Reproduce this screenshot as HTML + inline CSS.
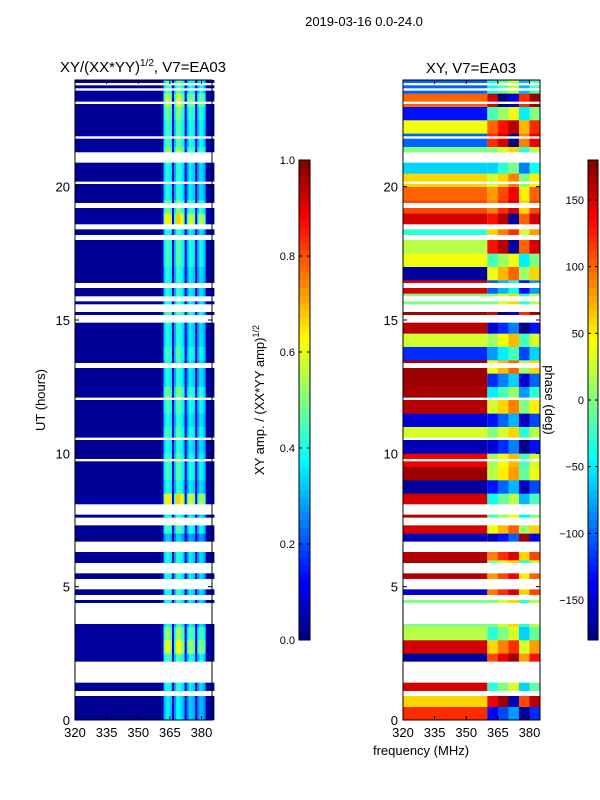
<!DOCTYPE html>
<html><head><meta charset="utf-8">
<style>
body{margin:0;background:#fff;}
svg{display:block;font-family:"Liberation Sans","DejaVu Sans",sans-serif;}
</style></head>
<body>
<svg id="fig" width="600" height="800" viewBox="0 0 600 800" xmlns="http://www.w3.org/2000/svg">
<rect width="600" height="800" fill="#fff"/>
<text x="364" y="26" font-size="13" text-anchor="middle">2019-03-16 0.0-24.0</text>
<text x="143" y="72" font-size="15" text-anchor="middle">XY/(XX*YY)<tspan font-size="10" dy="-6">1/2</tspan><tspan dy="6">, V7=EA03</tspan></text>
<text x="471" y="73" font-size="15" text-anchor="middle">XY, V7=EA03</text>
<g id="left"></g>
<g id="right"></g>
<g id="axes"></g>
<text x="45" y="400" font-size="13" text-anchor="middle" transform="rotate(-90 45 400)">UT (hours)</text>
<text x="421" y="755" font-size="13" text-anchor="middle">frequency (MHz)</text>
<text x="264" y="400" font-size="13" text-anchor="middle" transform="rotate(-90 264 400)">XY amp. / (XX*YY amp)<tspan font-size="9" dy="-5">1/2</tspan></text>
<text x="545" y="400" font-size="13" text-anchor="middle" transform="rotate(90 545 400)">phase (deg)</text>
</svg>
<script>
// ---- data ----
const freqMin = 320, freqMax = 385, hourMin = 0, hourMax = 24;
const xTicks = [320, 335, 350, 365, 380];
const yTicks = [0, 5, 10, 15, 20];
const ampTicks = [0.0, 0.2, 0.4, 0.6, 0.8, 1.0];
const phaseTicks = [-150, -100, -50, 0, 50, 100, 150];
// no-data intervals [startHour, endHour]
const gaps = [[0.94,1.12],[1.39,1.76],[1.8,2.17],[3.56,4.42],[4.5,4.7],[4.95,5.35],[5.5,5.9],[6.3,6.75],[7.35,7.6],[7.75,8.15],
 [8.9,8.95],[9.4,9.45],[9.7,9.8],[10.3,10.35],[10.5,10.6],[11.1,11.15],[11.8,11.85],
 [12.0,12.1],[12.3,12.35],[13.25,13.4],[14.0,14.05],[14.6,14.65],[14.9,15.25],[15.3,15.6],[15.7,15.9],[16.25,16.4],
 [17.0,17.05],[17.5,17.55],[18.05,18.2],[18.45,18.6],[18.9,18.95],[19.25,19.4],[19.7,19.75],[20.06,20.2],[20.9,21.3],
 [21.6,21.65],[21.85,21.9],[22.1,22.15],[22.3,22.35],[22.9,22.95],[23.15,23.2],[23.3,23.35],[23.5,23.55],[23.65,23.7],[23.85,23.9]];
// amplitude profile for 361..385 MHz (1 MHz bins); below 361 uses ampBase
const ampBase = 0.02;
const ampProfile = [0.05,0.33,0.4,0.4,0.36,0.08,0.3,0.42,0.42,0.38,0.33,0.08,0.28,0.37,0.35,0.32,0.08,0.28,0.35,0.33,0.28,0.03,0.03,0.03,0.03];
// per half-hour gain, 0h..23.5h
const rowGain = [0.9,0.9,1,1,1.1,1.5,1.3,1,1,1,1,1,1,0.8,1.1,1,1.6,1,1.1,1.1,1,1.1,1,1.1,1.2,1,1,1.1,1,1,1.1,1,1,1,1.1,1.1,1,1.6,1.2,1,1,1,1.3,1.1,1.1,1.2,1.4,1.1];
// phase (deg) per half hour, low band (<360 MHz) and high band (>=360 MHz)
const phaseLow = [120,60,150,0,-170,150,20,0,0,-150,160,170,160,-160,150,160,150,-170,170,140,-160,30,-150,160,165,170,170,-120,30,160,170,0,150,-170,40,20,-30,150,110,100,60,-60,0,-100,40,-130,100,-100];
const phaseHigh = [-140,140,-30,0,110,60,-30,0,0,90,80,0,90,-160,40,-20,-40,-130,20,10,-150,0,-130,30,-50,-120,40,-80,10,-150,150,0,-100,40,-20,130,60,130,90,80,30,-60,0,120,100,-20,150,-40];
// column phase offsets per 5 MHz chunk from 360 MHz
const phaseColOffset = [0,30,60,-30,20];

// ---- geometry ----
const L = {x0:75,x1:212}, R = {x0:403,x1:540}, Y0 = 720, Y1 = 80;
const NS = "http://www.w3.org/2000/svg";
function xs(p,f){return p.x0+(f-freqMin)/(freqMax-freqMin)*(p.x1-p.x0);}
function ys(h){return Y0-(h-hourMin)/(hourMax-hourMin)*(Y0-Y1);}
function jet(v){v=Math.max(0,Math.min(1,v));
 const r=Math.max(0,Math.min(1,1.5-Math.abs(4*v-3))),g=Math.max(0,Math.min(1,1.5-Math.abs(4*v-2))),b=Math.max(0,Math.min(1,1.5-Math.abs(4*v-1)));
 return `rgb(${Math.round(r*255)},${Math.round(g*255)},${Math.round(b*255)})`;}
function mk(tag,attrs,parent){const e=document.createElementNS(NS,tag);for(const k in attrs)e.setAttribute(k,attrs[k]);parent.appendChild(e);return e;}
function inGap(h){return gaps.some(g=>h>=g[0]&&h<g[1]);}
const gl=document.getElementById('left'), gr=document.getElementById('right'), ax=document.getElementById('axes');
const dh=0.1;
for(let i=0;i<240;i++){
 const h=i*dh, hc=h+dh/2; if(inGap(hc))continue;
 const k=Math.min(47,Math.floor(h*2));
 const yTop=ys(h+dh), hh=ys(h)-ys(h+dh)+0.3;
 let e=mk('rect',{x:xs(L,freqMin),y:yTop,width:xs(L,361)-xs(L,freqMin),height:hh,fill:jet(ampBase*rowGain[k])},gl);
 
 
 for(let j=0;j<ampProfile.length;j++){
  const f=361+j;
  e=mk('rect',{x:xs(L,f),y:yTop,width:xs(L,f+1)-xs(L,f)+0.3,height:hh,fill:jet(ampProfile[j]*rowGain[k])},gl);
  
  
 }
 e=mk('rect',{x:xs(R,freqMin),y:yTop,width:xs(R,360)-xs(R,freqMin),height:hh,fill:jet((phaseLow[k]+180)/360)},gr);
 
 
 for(let j=0;j<phaseColOffset.length;j++){
  const f=360+j*5;
  let p=phaseHigh[k]+phaseColOffset[j]; p=((p+180)%360+360)%360-180;
  e=mk('rect',{x:xs(R,f),y:yTop,width:xs(R,f+5)-xs(R,f)+0.3,height:hh,fill:jet((p+180)/360)},gr);
  
  
 }
}
[L,R].forEach((p,pi)=>{
 let fr=mk('rect',{x:p.x0,y:Y1,width:p.x1-p.x0,height:Y0-Y1,fill:'none',stroke:'#000','stroke-width':1},ax);
 
 
 xTicks.forEach(t=>{const x=xs(p,t);
  mk('line',{x1:x,y1:Y0,x2:x,y2:Y0-4,stroke:'#000'},ax);mk('line',{x1:x,y1:Y1,x2:x,y2:Y1+4,stroke:'#000'},ax);
  const tx=mk('text',{x:x,y:Y0+17,'font-size':13,'text-anchor':'middle'},ax);tx.textContent=t;
  
  });
 yTicks.forEach(t=>{const y=ys(t);
  mk('line',{x1:p.x0,y1:y,x2:p.x0+4,y2:y,stroke:'#000'},ax);mk('line',{x1:p.x1,y1:y,x2:p.x1-4,y2:y,stroke:'#000'},ax);
  const tx=mk('text',{x:p.x0-5,y:y+5,'font-size':13,'text-anchor':'end'},ax);tx.textContent=t;
  
  });
});
function cbar(x0,x1,vmin,vmax,ticks,fmt,name){
 const g=mk('g',{},ax);
 
 
 const top=160,bot=640,n=64;
 for(let i=0;i<n;i++){mk('rect',{x:x0,y:bot-(i+1)*(bot-top)/n,width:x1-x0,height:(bot-top)/n+0.4,fill:jet((i+0.5)/n)},g);}
 mk('rect',{x:x0,y:top,width:x1-x0,height:bot-top,fill:'none',stroke:'#000'},g);
 ticks.forEach(t=>{const y=bot-(t-vmin)/(vmax-vmin)*(bot-top);
  mk('line',{x1:x0,y1:y,x2:x0+3,y2:y,stroke:'#000'},g);mk('line',{x1:x1,y1:y,x2:x1-3,y2:y,stroke:'#000'},g);
  const tx=mk('text',{x:x0-4,y:y+4,'font-size':11,'text-anchor':'end'},g);tx.textContent=fmt(t);
  
  });
}
cbar(299,310,0,1,ampTicks,t=>t.toFixed(1),'amp-colorbar');
cbar(588,598,-180,180,phaseTicks,t=>(t<0?'\u2212'+(-t):String(t)),'phase-colorbar');
</script>
</body></html>
